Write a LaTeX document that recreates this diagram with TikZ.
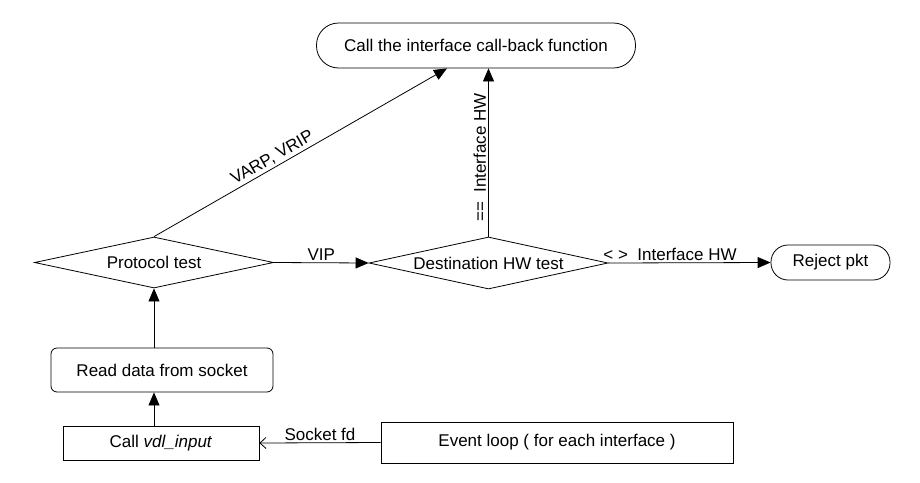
\documentclass[tikz,border=0pt]{standalone}
\usepackage{fontspec}
\setmainfont{Liberation Sans}
\usetikzlibrary{shapes.geometric,arrows.meta,calc}
\begin{document}
\begin{tikzpicture}[x=1pt,y=-1pt,
  font=\fontsize{17}{20}\selectfont,
  line width=0.8pt,
  box/.style={draw, rectangle, inner sep=0pt},
  stadium/.style={draw, rectangle, inner sep=0pt},
  dia/.style={draw, diamond, inner sep=0pt, aspect=4.7},
  arr/.style={-{Triangle[length=13pt,width=11pt]}},
  openarr/.style={-{Straight Barb[length=6pt,width=11pt]}},
  lbl/.style={inner sep=2pt}]
\useasboundingbox (0,0) rectangle (920,482);
\node[stadium, rounded corners=22pt, minimum width=319pt, minimum height=45pt] (cb) at (476,45.5) {Call the interface call-back function};
\node[dia, minimum width=239pt, minimum height=51pt] (pt) at (154,262.5) {Protocol test};
\node[dia, minimum width=239pt, minimum height=52pt] (dh) at (488.5,263) {Destination HW test};
\node[stadium, rounded corners=17pt, minimum width=119pt, minimum height=35pt] (rp) at (830.5,262.5) {Reject pkt};
\node[box, rounded corners=6pt, minimum width=222pt, minimum height=44pt] (rd) at (162,370) {Read data from socket};
\node[box, minimum width=196pt, minimum height=34pt] (cv) at (161,443) {Call \textit{vdl\_input}};
\node[box, minimum width=352pt, minimum height=41pt] (ev) at (557,442.5) {Event loop ( for each interface )};
\draw[arr] (cv.north -| pt.south) -- (rd.south -| pt.south);
\draw[arr] (rd.north -| pt.south) -- (pt.south);
\draw[arr] (pt.east) -- node[lbl, above]{VIP} (dh.west);
\draw[arr] (dh.east) -- node[lbl, above, pos=0.38]{<~>\ \ Interface HW} (rp.west);
\draw[arr] (pt.north) -- node[lbl, sloped, above, pos=0.42]{VARP, VRIP} ([xshift=-29pt]cb.south);
\draw[arr] (dh.north) -- node[lbl, sloped, above, pos=0.47]{==\ \ Interface HW} (dh.north |- cb.south);
\draw[openarr] (ev.west) -- node[lbl, above]{Socket fd} (cv.east);
\end{tikzpicture}
\end{document}
